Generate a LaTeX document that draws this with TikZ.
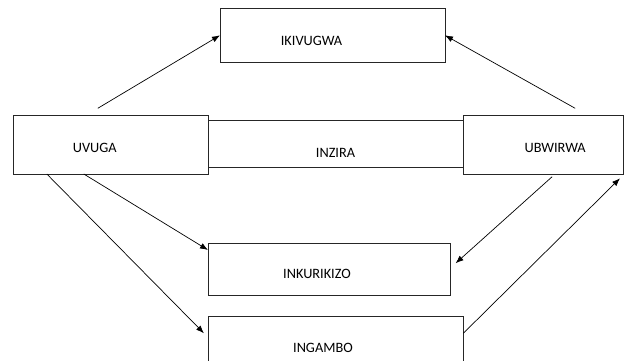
\documentclass[tikz,border=0pt]{standalone}
\usepackage{fontspec}
\setmainfont{Carlito}
\usetikzlibrary{positioning, calc, arrows.meta}
\tikzstyle{box} = [rectangle, draw=black!85, line width=1pt, inner sep=0pt, outer sep=0pt, anchor=north west]
\tikzstyle{arrow} = [line width=0.7pt, ->, >={Latex[length=8pt,width=6pt]}]
\tikzstyle{every node}=[font=\fontsize{14.3}{17}\selectfont]

\begin{document}
\begin{tikzpicture}[x=1pt, y=-1pt]
  \useasboundingbox (0,0) rectangle (624,361);
  \clip (0,0) rectangle (624,361);
  %agasanduku
  \node (inzira) [box, minimum width=255pt, minimum height=46.6pt, label={[yshift=-8.7pt]center:INZIRA}] at (208,120.7) {};
  \node (ikivugwa) [box, minimum width=225pt, minimum height=54pt, label={[xshift=-21pt,yshift=-5.7pt]center:IKIVUGWA}] at (220,8.3) {};
  \node (uvuga) [box, fill=white, minimum width=195pt, minimum height=58.7pt, label={[xshift=-16pt,yshift=-3pt]center:UVUGA}] at (13.3,115.3) {};
  \node (ubwirwa) [box, fill=white, minimum width=159.7pt, minimum height=59.4pt, label={[xshift=12pt,yshift=-2.7pt]center:UBWIRWA}] at (463.3,115.3) {};
  \node (inkurikizo) [box, minimum width=242pt, minimum height=52pt, label={[xshift=-12pt,yshift=-5pt]center:INKURIKIZO}] at (208,243.3) {};
  \node (ingambo) [box, minimum width=255.3pt, minimum height=58.3pt, label={[xshift=-12.7pt,yshift=-2.5pt]center:INGAMBO}] at (208,316.7) {};

  %imyambi
  \draw [arrow] ([xshift=-13pt,yshift=7pt]uvuga.north) -- (ikivugwa.west);
  \draw [arrow] ([xshift=32pt,yshift=7pt]ubwirwa.north) -- (ikivugwa.east);
  \draw [arrow] ([xshift=-27pt]uvuga.south) -- ([yshift=-6.7pt]inkurikizo.north west);
  \draw [arrow] ([xshift=-64pt]uvuga.south) -- ([xshift=-4pt,yshift=-16.6pt]ingambo.north west);
  \draw [arrow] ([xshift=9pt,yshift=-2pt]ubwirwa.south) -- ([xshift=5.6pt,yshift=6pt]inkurikizo.east);
  \draw [arrow] ([yshift=-16.6pt]ingambo.north east) -- ([xshift=-3pt,yshift=-3.6pt]ubwirwa.south east);
\end{tikzpicture}
\end{document}
